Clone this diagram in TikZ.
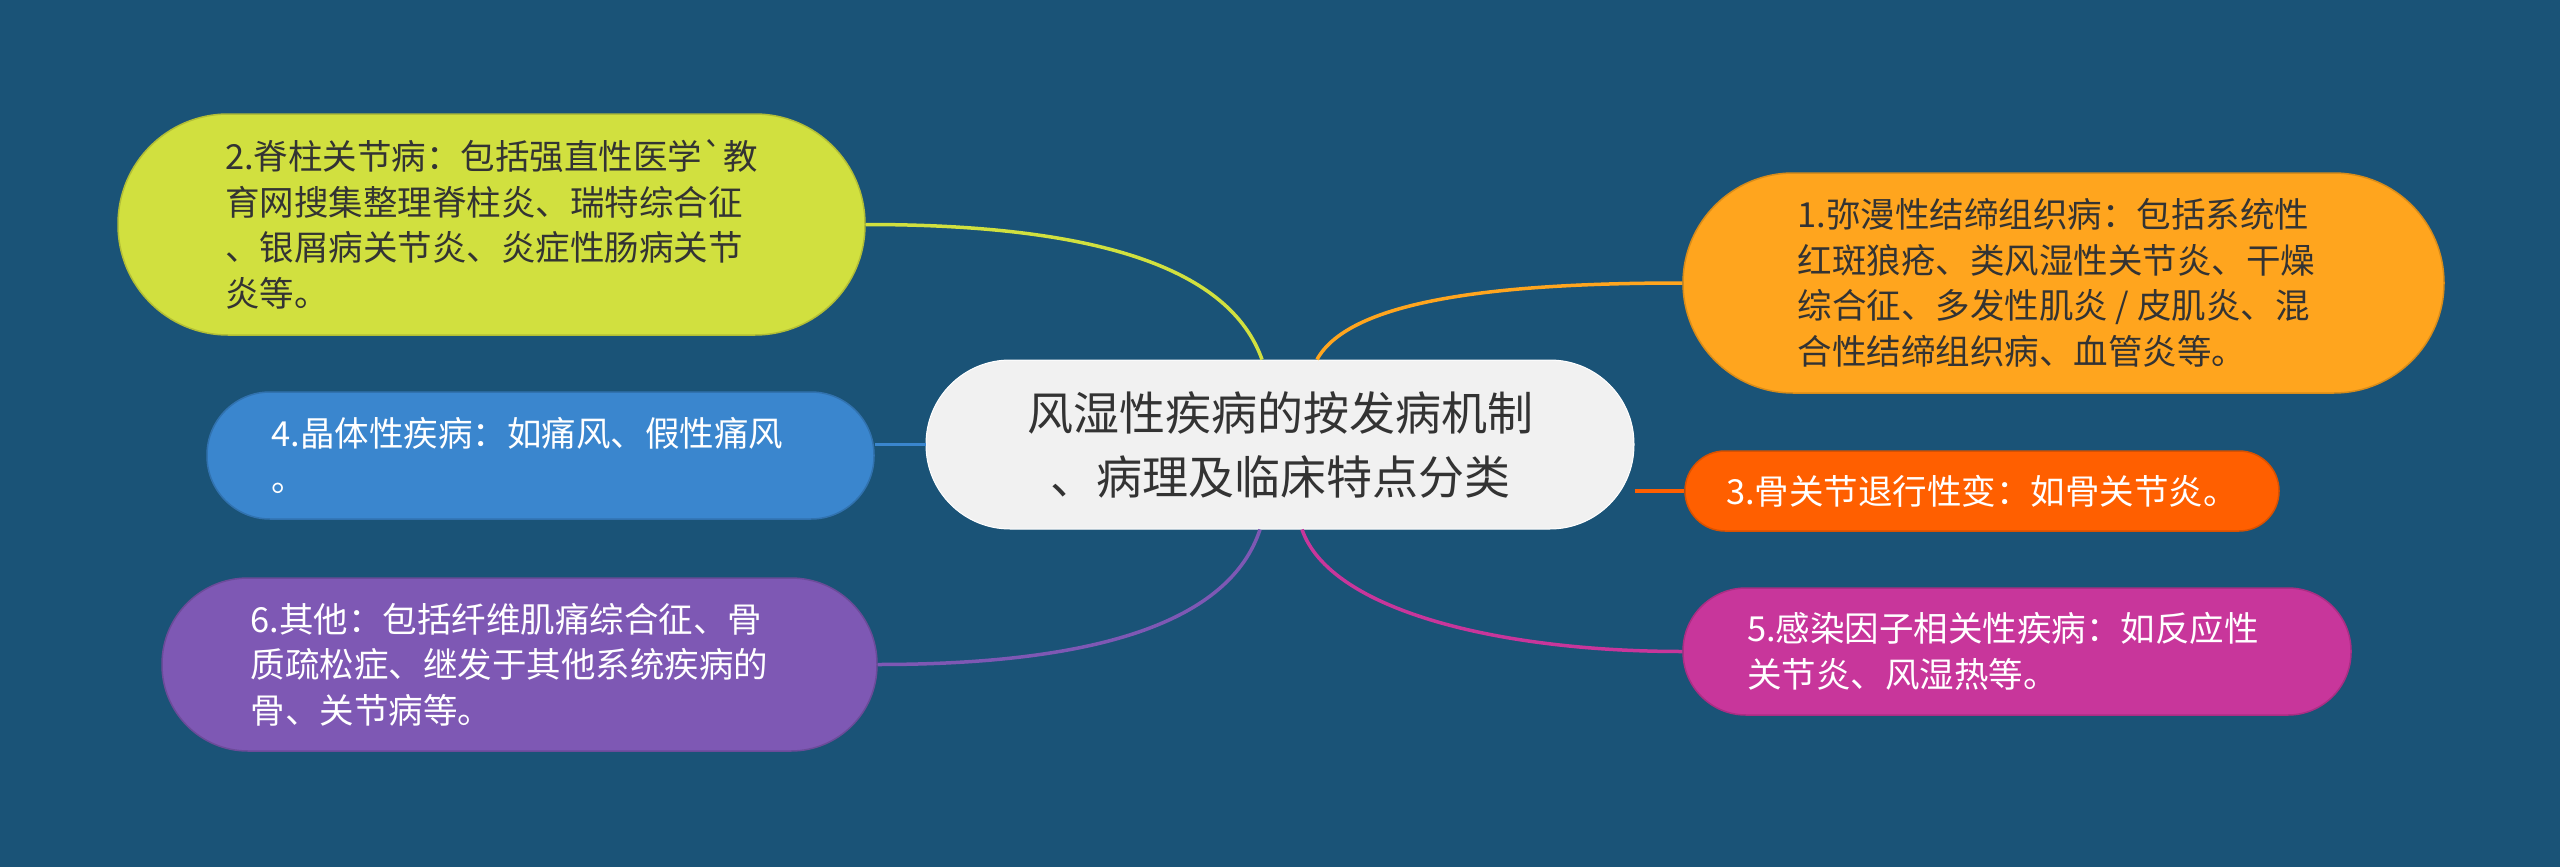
\documentclass[tikz,border=0pt]{standalone}
\usepackage{fontspec}
\newfontfamily\cjk[Ligatures=TeXOff]{Noto Sans CJK SC}
\definecolor{bg}{HTML}{1A5377}
\definecolor{cA}{HTML}{FFA51E}
\definecolor{cB}{HTML}{D1E03F}
\definecolor{cC}{HTML}{FF5F00}
\definecolor{cD}{HTML}{3A86CE}
\definecolor{cE}{HTML}{C8369B}
\definecolor{cF}{HTML}{7E58B4}
\definecolor{ctr}{HTML}{F1F1F1}
\definecolor{darktxt}{HTML}{333333}
\newcommand\padr[1]{\hspace*{#1pt}}
\tikzset{
  leaf/.style={rounded corners=#1, inner sep=0pt, align=left,
    font=\cjk\fontsize{34.5}{45.5}\selectfont, line width=1.5pt},
  hub/.style={rounded corners=84pt, inner sep=0pt, align=center, fill=ctr,
    draw=white, line width=1pt, minimum width=708pt, minimum height=169pt,
    text=darktxt, font=\cjk\fontsize{46}{64}\selectfont},
  link/.style={line width=3.5pt}
}
\begin{document}
\begin{tikzpicture}[x=1pt,y=-1pt]
\useasboundingbox[fill=bg] (0,0) rectangle (2560,867);
% center
\node[hub] (c) at (1280,444.5) {风湿性疾病的按发病机制\\、病理及临床特点分类};
% children
\node[leaf=110pt, fill=cA, draw=cA!85!black, text=darktxt, minimum width=761pt, minimum height=220pt]
  (n1) at (2063.5,283) {1.弥漫性结缔组织病：包括系统性\padr{20}\\红斑狼疮、类风湿性关节炎、干燥\padr{20}\\综合征、多发性肌炎 / 皮肌炎、混\padr{20}\\合性结缔组织病、血管炎等。};
\node[leaf=110pt, fill=cB, draw=cB!85!black, text=darktxt, minimum width=747pt, minimum height=221pt]
  (n2) at (491.5,224.5) {2.脊柱关节病：包括强直性医学`教\\育网搜集整理脊柱炎、瑞特综合征\\、银屑病关节炎、炎症性肠病关节\\炎等。};
\node[leaf=40pt, fill=cC, draw=cC!85!black, text=white, minimum width=594pt, minimum height=80pt]
  (n3) at (1982,491) {3.骨关节退行性变：如骨关节炎。};
\node[leaf=63pt, fill=cD, draw=cD!85!black, text=white, minimum width=667pt, minimum height=127pt]
  (n4) at (540.5,455.5) {4.晶体性疾病：如痛风、假性痛风\padr{26}\\。};
\node[leaf=63pt, fill=cE, draw=cE!85!black, text=white, minimum width=668pt, minimum height=127pt]
  (n5) at (2017,651.5) {5.感染因子相关性疾病：如反应性\padr{28}\\关节炎、风湿热等。};
\node[leaf=86pt, fill=cF, draw=cF!85!black, text=white, minimum width=715pt, minimum height=173pt]
  (n6) at (519.5,664.5) {6.其他：包括纤维肌痛综合征、骨\padr{26}\\质疏松症、继发于其他系统疾病的\padr{26}\\骨、关节病等。};
% connectors
\draw[link, cB] ([xshift=-18pt]c.north) .. controls +(-32,-90) and +(235,0) .. (n2.east);
\draw[link, cA] ([xshift=37pt]c.north) .. controls +(33,-60) and +(-183,0) .. (n1.west);
\draw[link, cF] ([xshift=-20pt]c.south) .. controls +(-30,91) and +(223,0) .. (n6.east);
\draw[link, cE] ([xshift=22pt]c.south) .. controls +(28,81) and +(-183,0) .. (n5.west);
\draw[link, cD] (c.west) -- (n4.east |- c.west);
\draw[link, cC] (c.east |- n3.west) -- (n3.west);
\end{tikzpicture}
\end{document}
